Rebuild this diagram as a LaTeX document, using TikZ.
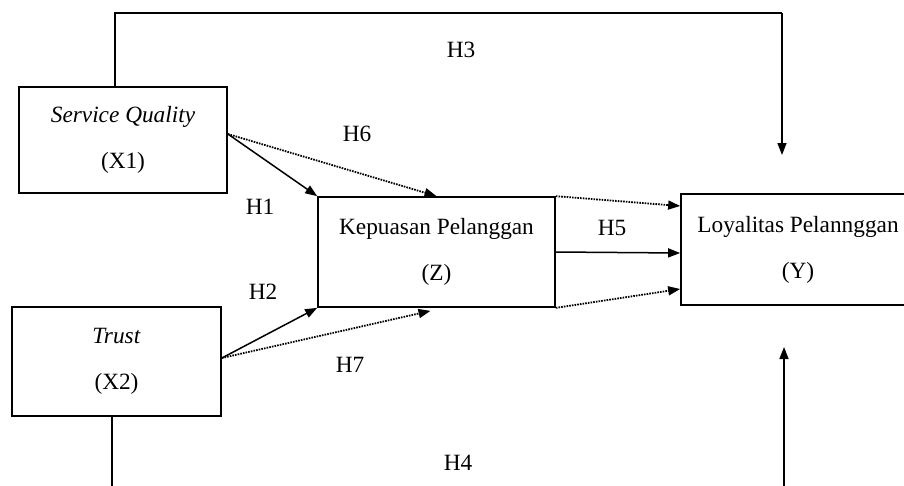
\documentclass[tikz,border=0pt]{standalone}
\usepackage{fontspec}
\setmainfont{Liberation Serif}
\usetikzlibrary{arrows.meta}
\tikzset{
  box/.style={draw, line width=1.7pt, inner sep=0pt, align=center,
    font=\fontsize{23.3}{46}\selectfont},
  lbl/.style={font=\fontsize{23.3}{27}\selectfont, inner sep=0pt},
  solidarr/.style={line width=1.5pt, -{Triangle[length=12pt,width=9pt]}},
  dotarr/.style={line width=1.8pt, dash pattern=on 1.6pt off 1.1pt, -{Triangle[length=12pt,width=9pt]}},
  plain/.style={line width=1.5pt}
}
\begin{document}
\begin{tikzpicture}[x=1pt,y=-1pt]
\clip (0,0) rectangle (904,485);
\fill[white] (0,0) rectangle (904,485);
% boxes
\node[box, minimum width=208pt, minimum height=106pt] (X1) at (123,140) {\textit{Service Quality}\\(X1)};
\node[box, minimum width=209pt, minimum height=109pt] (X2) at (116.5,361.5) {\textit{Trust}\\(X2)};
\node[box, minimum width=237pt, minimum height=110pt] (Z) at (436.5,252) {Kepuasan Pelanggan\\(Z)};
\node[box, minimum width=234pt, minimum height=111pt] (Y) at (798,249.5) {Loyalitas Pelannggan\\(Y)};
% coordinates for free ends
\coordinate (tc) at (782,13);
\coordinate (tend) at (782,155);
\coordinate (bstart) at (112,492);
\coordinate (bend) at (784,492);
\coordinate (btip) at (784,347);
% top H3 path
\draw[plain] ([xshift=-8pt]X1.north) |- (tc);
\draw[solidarr] (tc) -- (tend);
% bottom H4 path
\draw[plain] ([xshift=-4.5pt]X2.south) -- (bstart);
\draw[solidarr] (bend) -- (btip);
% H1, H6
\draw[solidarr] ([yshift=6pt]X1.east) -- (Z.north west);
\draw[dotarr] ([yshift=6pt]X1.east) -- (Z.north);
% H2, H7
\draw[solidarr] ([yshift=3.5pt]X2.east) -- (Z.south west);
\draw[dotarr] ([yshift=3.5pt]X2.east) -- ([xshift=-6pt,yshift=-3pt]Z.south);
% H5 and dotted to Y
\draw[solidarr] (Z.east) -- ([yshift=-3.5pt]Y.west);
\draw[dotarr] (Z.north east) -- ([yshift=43.5pt]Y.west);
\draw[dotarr] (Z.south east) -- ([yshift=-39.5pt]Y.west);
% labels
\node[lbl] (h3) at (461,50) {H3};
\node[lbl] (h6) at (357,134) {H6};
\node[lbl] (h1) at (260,207) {H1};
\node[lbl] (h2) at (263,292) {H2};
\node[lbl] (h7) at (350,365) {H7};
\node[lbl] (h5) at (612,228) {H5};
\node[lbl] (h4) at (458,463) {H4};
\end{tikzpicture}
\end{document}
